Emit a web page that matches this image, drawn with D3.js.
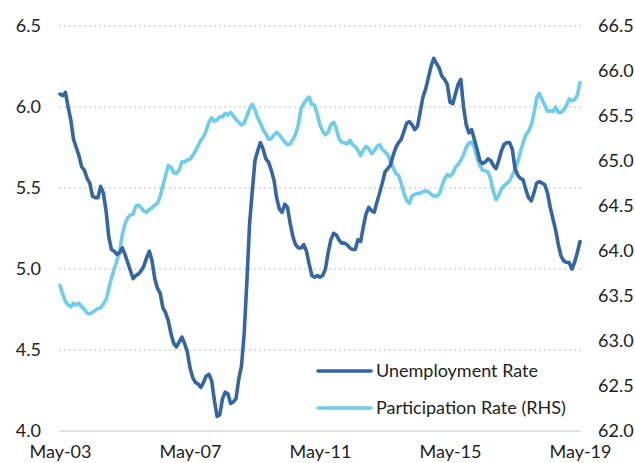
<!DOCTYPE html>
<html><head><meta charset="utf-8">
<script src="https://cdn.jsdelivr.net/npm/d3@7"></script>
<style>
html,body{margin:0;padding:0;background:#fff;}
svg{display:block;}
text{font-family:Lato,"Open Sans",sans-serif;fill:#222;}
</style></head>
<body><svg id="chart" width="635" height="463"></svg>
<script>
// Monthly data May-2003 .. May-2019 (193 months)
const unemployment = [
6.08,6.07,6.09,6.00,5.92,5.80,5.75,5.70,5.63,5.61,5.56,5.53,5.45,5.44,5.44,5.51,5.47,5.36,5.20,5.12,
5.11,5.09,5.10,5.13,5.09,5.04,4.99,4.94,4.96,4.97,4.99,5.02,5.07,5.11,5.05,4.94,4.88,4.85,4.76,4.73,
4.68,4.60,4.54,4.52,4.55,4.58,4.54,4.49,4.39,4.33,4.30,4.29,4.27,4.30,4.34,4.35,4.31,4.19,4.09,4.10,
4.20,4.24,4.23,4.17,4.18,4.20,4.32,4.40,4.60,4.92,5.28,5.48,5.67,5.73,5.78,5.74,5.68,5.66,5.61,5.55,
5.44,5.37,5.35,5.40,5.38,5.28,5.20,5.15,5.13,5.13,5.15,5.11,5.03,4.96,4.95,4.96,4.95,4.96,5.00,5.10,
5.18,5.22,5.21,5.18,5.16,5.16,5.15,5.13,5.12,5.12,5.18,5.17,5.26,5.34,5.38,5.36,5.35,5.41,5.47,5.53,
5.60,5.62,5.64,5.70,5.75,5.78,5.80,5.85,5.90,5.91,5.89,5.86,5.88,5.97,6.06,6.11,6.18,6.25,6.30,6.27,
6.24,6.19,6.17,6.14,6.03,6.02,6.08,6.14,6.17,6.00,5.89,5.84,5.86,5.80,5.74,5.67,5.65,5.66,5.68,5.67,
5.64,5.62,5.67,5.73,5.77,5.78,5.78,5.74,5.62,5.58,5.56,5.55,5.49,5.44,5.42,5.47,5.53,5.54,5.53,5.52,
5.47,5.38,5.31,5.24,5.15,5.08,5.05,5.04,5.04,5.00,5.04,5.10,5.17];
const participation = [
63.62,63.52,63.44,63.40,63.38,63.42,63.40,63.42,63.38,63.35,63.31,63.30,63.32,63.34,63.36,63.37,63.41,63.46,63.58,63.70,
63.80,63.89,64.00,64.18,64.30,64.37,64.40,64.41,64.50,64.51,64.48,64.44,64.43,64.46,64.48,64.51,64.53,64.61,64.73,64.84,
64.95,64.93,64.87,64.86,64.90,64.99,64.99,65.01,65.02,65.06,65.11,65.17,65.23,65.27,65.34,65.43,65.48,65.44,65.46,65.49,
65.49,65.53,65.51,65.54,65.50,65.46,65.43,65.40,65.42,65.50,65.58,65.63,65.57,65.48,65.42,65.35,65.30,65.24,65.25,65.29,
65.32,65.29,65.25,65.21,65.18,65.19,65.24,65.30,65.40,65.58,65.64,65.68,65.71,65.63,65.62,65.52,65.40,65.33,65.29,65.32,
65.40,65.43,65.36,65.25,65.21,65.20,65.19,65.23,65.18,65.16,65.12,65.06,65.12,65.16,65.14,65.08,65.11,65.16,65.18,65.13,
65.10,65.07,65.00,64.93,64.86,64.84,64.75,64.64,64.56,64.53,64.61,64.63,64.64,64.64,64.66,64.67,64.66,64.63,64.61,64.61,
64.63,64.72,64.80,64.85,64.83,64.86,64.93,64.96,65.01,65.07,65.15,65.20,65.21,65.15,65.03,64.95,64.90,64.89,64.88,64.80,
64.66,64.57,64.62,64.69,64.73,64.75,64.78,64.84,64.91,64.99,65.10,65.20,65.29,65.33,65.40,65.53,65.70,65.75,65.68,65.62,
65.55,65.56,65.55,65.60,65.54,65.54,65.57,65.62,65.69,65.67,65.68,65.73,65.87];
const xTickLabels = ["May-03","May-07","May-11","May-15","May-19"];
const xTickIndex = [0,48,96,144,192];
const leftTicks = [4.0,4.5,5.0,5.5,6.0,6.5];
const rightTicks = [62.0,62.5,63.0,63.5,64.0,64.5,65.0,65.5,66.0,66.5];
const seriesNames = ["Unemployment Rate","Participation Rate (RHS)"];
const colors = ["#3466a5","#6ccdee"];

const svg = d3.select("#chart");
const x = d3.scaleLinear().domain([0,192]).range([60,580]);
const yL = d3.scaleLinear().domain([4,6.5]).range([431,26]);
const yR = d3.scaleLinear().domain([62,66.5]).range([431,26]);
const fs = 18;
const ff = "Lato, 'Open Sans', sans-serif";

// gridlines
svg.append("g").selectAll("line").data(leftTicks.filter(d=>d>4)).join("line")
  .attr("x1",59).attr("x2",581).attr("y1",d=>yL(d)).attr("y2",d=>yL(d))
  .attr("stroke","#d4d4d4").attr("stroke-width",1.5).attr("stroke-dasharray","2,3");
svg.append("line").attr("x1",59).attr("x2",581).attr("y1",yL(4)).attr("y2",yL(4))
  .attr("stroke","#d9d9d9").attr("stroke-width",1.5);

// left axis
const gl = svg.append("g").attr("transform","translate(41,0)")
  .call(d3.axisLeft(yL).tickValues(leftTicks).tickFormat(d3.format(".1f")).tickSize(0).tickPadding(0));
gl.select(".domain").remove();
gl.selectAll("text").attr("font-size",fs).attr("font-family",ff).attr("fill","#222");

// right axis
const gr = svg.append("g").attr("transform","translate(598,0)")
  .call(d3.axisRight(yR).tickValues(rightTicks).tickFormat(d3.format(".1f")).tickSize(0).tickPadding(0));
gr.select(".domain").remove();
gr.selectAll("text").attr("font-size",fs).attr("font-family",ff).attr("fill","#222");

// x axis
const gx = svg.append("g").attr("transform","translate(0,445)")
  .call(d3.axisBottom(x).tickValues(xTickIndex).tickFormat((d,i)=>xTickLabels[i]).tickSize(0).tickPadding(0));
gx.select(".domain").remove();
gx.selectAll("text").attr("font-size",fs).attr("font-family",ff).attr("fill","#222");

// lines
const lineL = d3.line().x((d,i)=>x(i)).y(d=>yL(d)).curve(d3.curveLinear);
const lineR = d3.line().x((d,i)=>x(i)).y(d=>yR(d)).curve(d3.curveLinear);
svg.append("path").datum(participation).attr("d",lineR).attr("fill","none")
  .attr("stroke",colors[1]).attr("stroke-width",3.6).attr("stroke-linejoin","round").attr("stroke-linecap","round");
svg.append("path").datum(unemployment).attr("d",lineL).attr("fill","none")
  .attr("stroke",colors[0]).attr("stroke-width",3.6).attr("stroke-linejoin","round").attr("stroke-linecap","round");

// legend
const lg = svg.append("g");
const ly = [371,408];
seriesNames.forEach((n,i)=>{
  lg.append("line").attr("x1",318).attr("x2",371).attr("y1",ly[i]).attr("y2",ly[i])
    .attr("stroke",colors[i]).attr("stroke-width",3.6).attr("stroke-linecap","round");
  lg.append("text").attr("x",376).attr("y",ly[i]).attr("dy","0.35em")
    .attr("font-size",fs).attr("font-family",ff).text(n);
});
</script></body></html>
